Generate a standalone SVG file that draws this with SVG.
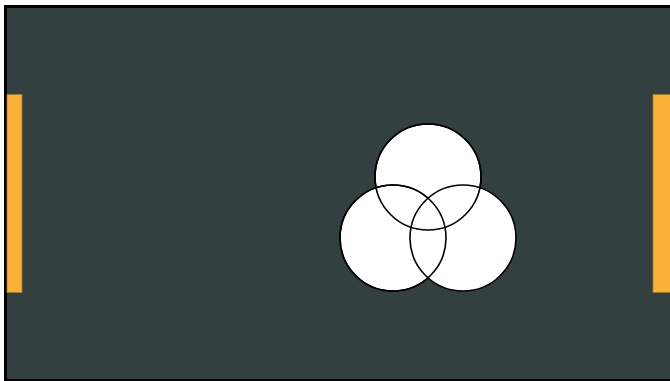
<svg xmlns="http://www.w3.org/2000/svg" width="670" height="381" viewBox="0 0 670 381">
<style>
.bar{fill:#fbb13a;stroke:#a07a30;stroke-width:0.8}
.c{fill:#ffffff;stroke:#000000;stroke-width:1.6}
.co{fill:none;stroke:#000000;stroke-width:1.6}
</style>
<rect x="0" y="0" width="670" height="381" fill="#ffffff"/>
<rect x="4" y="5" width="680" height="380" fill="#000000"/>
<rect x="7" y="8" width="670" height="371" fill="#344040"/>
<g id="bar-left"><rect class="bar" x="7" y="94.5" width="15" height="198"/></g>
<g id="bar-right"><rect class="bar" x="653" y="94.5" width="20" height="198"/></g>
<g id="venn">
<circle class="c" cx="428" cy="177" r="53"/>
<circle class="c" cx="393" cy="238" r="53"/>
<circle class="c" cx="463" cy="238" r="53"/>
<circle class="co" cx="428" cy="177" r="53"/>
<circle class="co" cx="393" cy="238" r="53"/>
</g>
</svg>
